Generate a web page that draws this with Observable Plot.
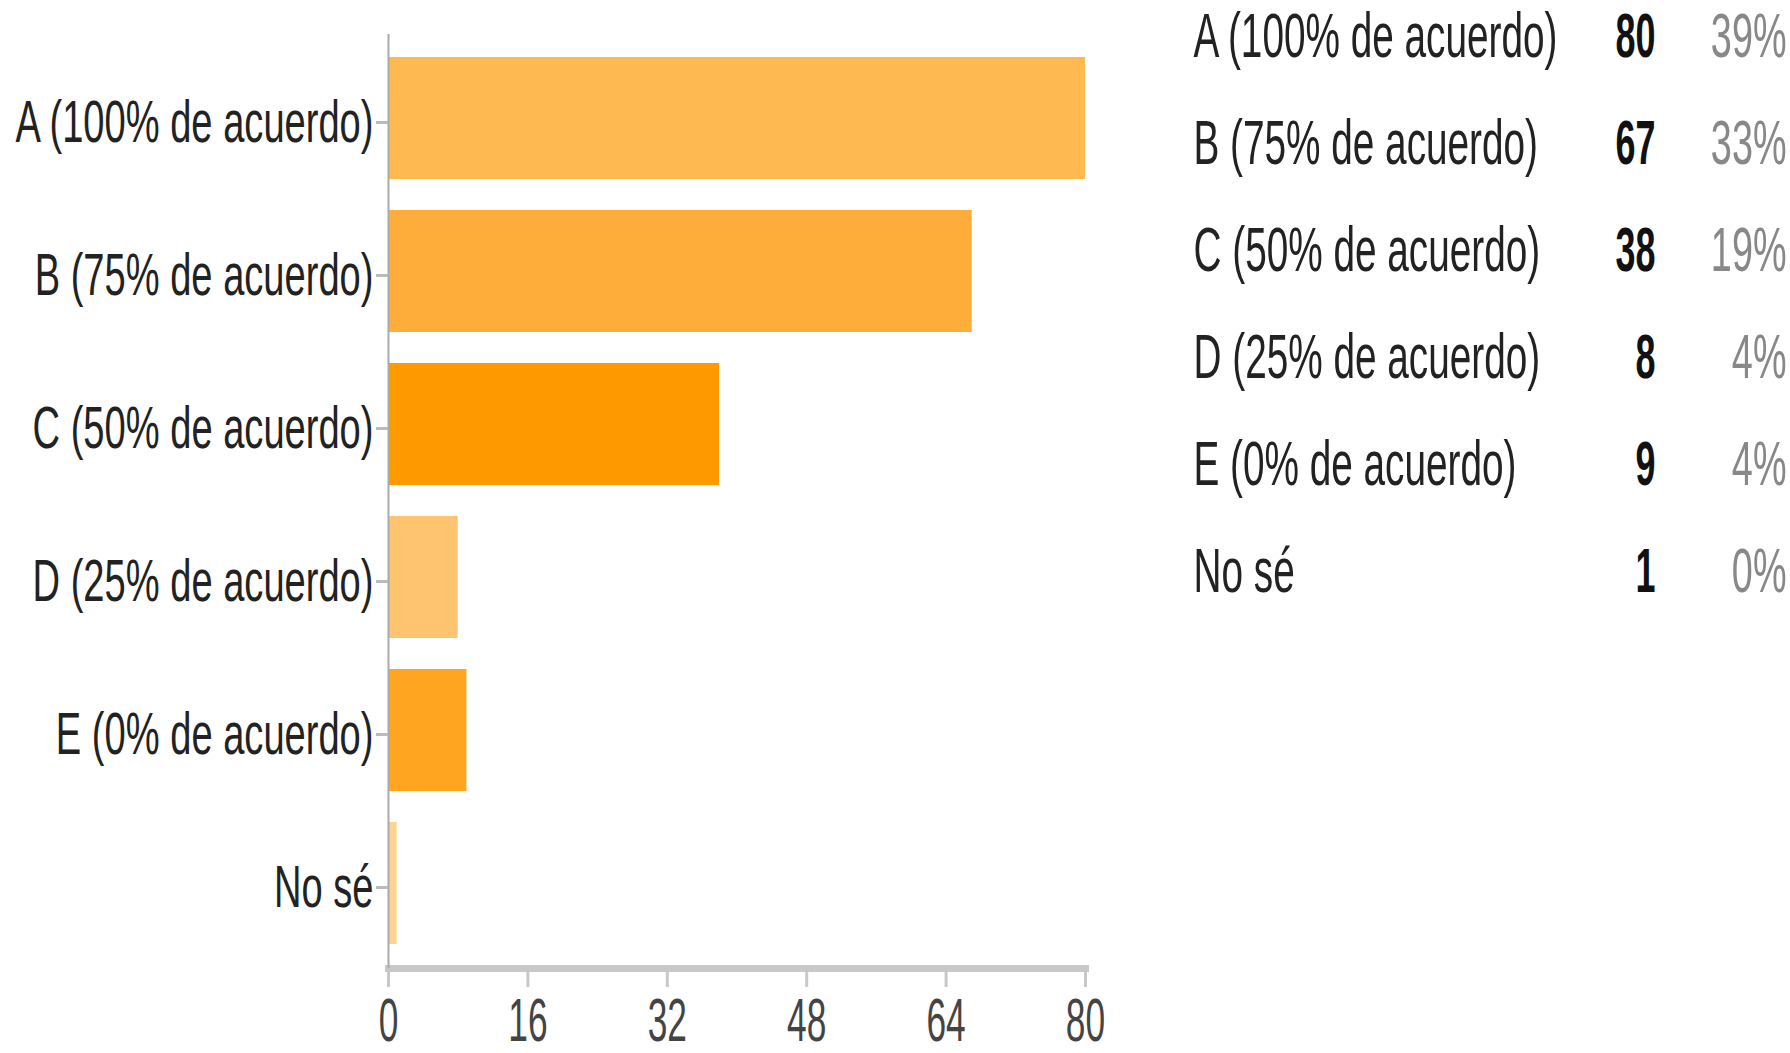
<!DOCTYPE html>
<html><head><meta charset="utf-8">
<script src="https://cdn.jsdelivr.net/npm/d3@7"></script>
<script src="https://cdn.jsdelivr.net/npm/@observablehq/plot@0.6"></script>
<style>
body{margin:0;background:#fff;}
#wrap{position:relative;width:1790px;height:1053px;overflow:hidden;background:#fff;font-family:"Liberation Sans",Arial,sans-serif;}
#chart{position:absolute;left:0;top:0;}
#table{position:absolute;left:1100px;top:0;}
</style></head><body><div id="wrap"><div id="chart"></div><div id="table"></div></div>
<script>
const categories = ["A (100% de acuerdo)", "B (75% de acuerdo)", "C (50% de acuerdo)", "D (25% de acuerdo)", "E (0% de acuerdo)", "No sé"];
const counts = [80, 67, 38, 8, 9, 1];
const percentLabels = ["39%", "33%", "19%", "4%", "4%", "0%"];
const barColors = ["#FFB951", "#FFAD3A", "#FF9900", "#FFC46F", "#FFA520", "#FFD490"];
const xTicks = [0, 16, 32, 48, 64, 80];

const rows = categories.map((c, i) => ({category: c, count: counts[i], pct: percentLabels[i], color: barColors[i]}));
const FONT = '"Liberation Sans", Arial, sans-serif';

const chart = Plot.plot({
  width: 1120, height: 1053,
  marginLeft: 388, marginRight: 35, marginTop: 34, marginBottom: 85,
  style: {fontFamily: FONT, background: "white"},
  x: {domain: [0, 80], ticks: xTicks},
  y: {domain: categories, paddingInner: 0.2, paddingOuter: 0.14},
  color: {type: "identity"},
  marks: [
    Plot.barX(rows, {x: "count", y: "category", fill: "color"}),
    Plot.frame({anchor: "bottom", stroke: "#c8c8c8", strokeWidth: 7}),
    Plot.ruleX([0], {stroke: "#aaaaaa", strokeWidth: 2}),
    Plot.axisY({tickSize: 12, tickPadding: 3, fontSize: 60, fill: "#222", stroke: "#bbbbbb", strokeWidth: 3, dy: 4, label: null}),
    Plot.axisX({ticks: xTicks, tickSize: 19, tickPadding: 9, fontSize: 62, fill: "#444", stroke: "#c8c8c8", strokeWidth: 3, label: null})
  ]
});
document.getElementById("chart").appendChild(chart);

const table = Plot.plot({
  width: 690, height: 620,
  marginTop: 34, marginBottom: 47, marginLeft: 93, marginRight: 4,
  style: {fontFamily: FONT, background: "white"},
  y: {type: "point", domain: categories, padding: 0, axis: null},
  marks: [
    Plot.text(rows, {y: "category", text: "category", frameAnchor: "left", textAnchor: "start", fontSize: 63, fill: "#222"}),
    Plot.text(rows, {y: "category", text: d => String(d.count), frameAnchor: "right", textAnchor: "end", dx: -131, fontSize: 63, fontWeight: "bold", fill: "#111"}),
    Plot.text(rows, {y: "category", text: "pct", frameAnchor: "right", textAnchor: "end", fontSize: 63, fill: "#888"})
  ]
});
document.getElementById("table").appendChild(table);

// The reference uses a horizontally condensed face: narrow each text around its anchor.
function squeeze(nodes, r) {
  nodes.forEach(t => {
    const tr = t.getAttribute("transform") || "";
    const x = t.getAttribute("x");
    if (x != null) t.setAttribute("x", (+x) / r);
    t.setAttribute("transform", (tr + ` scale(${r},1)`).trim());
  });
}
squeeze(chart.querySelectorAll('g[aria-label="y-axis tick label"] text'), 0.635);
squeeze(chart.querySelectorAll('g[aria-label="x-axis tick label"] text'), 0.57);
const textGroups = table.querySelectorAll('g[aria-label="text"]');
squeeze(textGroups[0].querySelectorAll("text"), 0.615);
squeeze(textGroups[1].querySelectorAll("text"), 0.57);
squeeze(textGroups[2].querySelectorAll("text"), 0.60);
</script>
</body></html>
